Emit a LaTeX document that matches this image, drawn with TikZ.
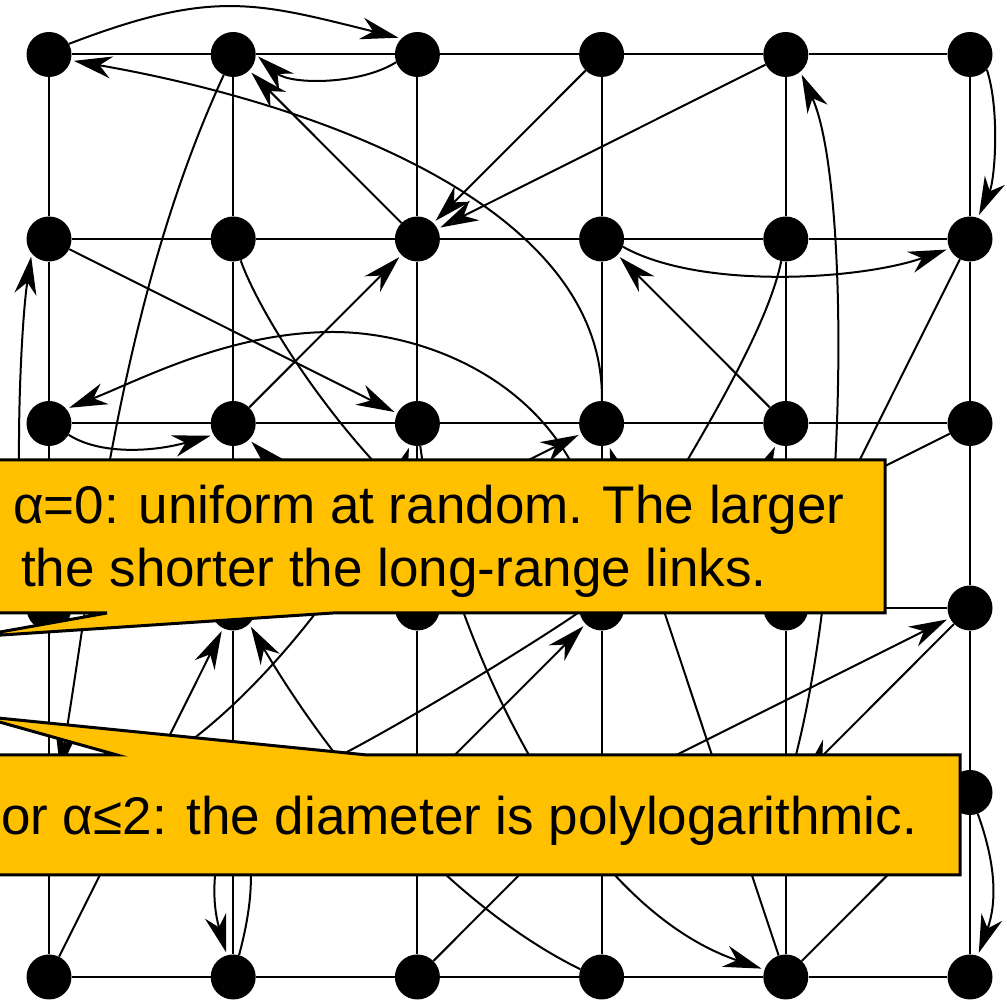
\documentclass[tikz,border=0pt]{standalone}
\usepackage{fontspec}
\setmainfont{Liberation Sans}
\usetikzlibrary{arrows.meta}
\definecolor{callfill}{RGB}{255,192,0}
\begin{document}
\begin{tikzpicture}[x=1pt,y=1pt,
  dot/.style={circle,fill=black,inner sep=0pt,minimum size=45pt},
  gridline/.style={line width=2pt},
  arr/.style={line width=2pt,-{Stealth[length=38pt,width=22pt,inset=12pt]},shorten >=3pt},
  callout/.style={fill=callfill,draw=black,line width=3pt,line join=miter},
  ctext/.style={anchor=base west,inner sep=0pt,font=\fontsize{53}{63}\selectfont}]
\useasboundingbox (0,0) rectangle (1007,1000);
\clip (0,0) rectangle (1007,1000);
% nodes
\foreach \i in {0,...,5}{\foreach \j in {0,...,5}{
  \node[dot] (n\i\j) at ({49+184.2*\i},{945.5-184.5*\j}) {};}}
% grid
\foreach \a/\b in {0/1,1/2,2/3,3/4,4/5}{\foreach \j in {0,...,5}{
  \draw[gridline] (n\a\j) -- (n\b\j);
  \draw[gridline] (n\j\a) -- (n\j\b);}}
% long-range links
\draw[arr] (n00.28) .. controls (212,1011) and (255,998) .. (n20.135);
\draw[arr] (n20.200) .. controls (360,915) and (290,915) .. (n10.east);
\draw[arr] (n32) .. controls (605,800) and (300,900) .. (n00.-15);
\draw[arr] (n21) -- (n10);
\draw[arr] (n10) .. controls (120,700) and (95,440) .. (n04.62);
\draw[arr] (n03.150) .. controls (12,480) and (20,670) .. (n01.220);
\draw[arr] (n01) -- (n22);
\draw[arr] (n11) .. controls (265,670) and (400,460) .. (n33);
\draw[arr] (n02.-30) .. controls (100,545) and (153,548) .. (n12.210);
\draw[arr] (n30) -- (n21);
\draw[arr] (n40) -- (n21);
\draw[arr] (n50.-42) .. controls (1000,890) and (995,820) .. (n51.70);
\draw[arr] (n31.-20) .. controls (700,710) and (860,720) .. (n51.205);
\draw[arr] (n42) -- (n31);
\draw[arr] (n44) .. controls (850,440) and (850,820) .. (n40.-50);
\draw[arr] (n41) .. controls (765,660) and (680,530) .. (n33);
\draw[arr] (n51) -- (n43);
\draw[arr] (n52) -- (n33);
\draw[arr] (n12) -- (n21);
\draw[arr] (n33) .. controls (600,600) and (440,668) .. (333,668) .. controls (230,668) and (140,620) .. (n02.40);
\draw[arr] (n23) -- (n12);
\draw[arr] (n04) .. controls (200,210) and (370,440) .. (n22);
\draw[arr] (n22) .. controls (440,400) and (560,100) .. (n45.161);
\draw[arr] (n13) -- (n32);
\draw[arr] (n45) -- (n32);
\draw[arr] (n43) to[bend left=25] (n42);
\draw[arr] (n53) -- (n44);
\draw[arr] (n34) -- (n53);
\draw[arr] (n25) -- (n34);
\draw[arr] (n24) -- (n33);
\draw[arr] (n33.190) .. controls (540,360) and (330,230) .. (n14);
\draw[arr] (n05) -- (n13);
\draw[arr] (n35.160) .. controls (470,85) and (350.5,205) .. (n13.-45);
\draw[arr] (n14) to[bend right=16] (n15);
\draw[arr] (n15) to[bend right=15] (n14);
\draw[arr] (n45) -- (n54);
\draw[arr] (n54) to[bend left=20] (n55);
% callouts
\draw[callout] (-40,540) -- (885,540) -- (885,387) -- (333,387) -- (-28,363) -- (107,387) -- (-40,387) -- cycle;
\draw[callout] (-40,245) -- (117,245) -- (-22,284) -- (367,245) -- (960,245) -- (960,125) -- (-40,125) -- cycle;
\node[ctext] (t1) at (13,476) {α=0: uniform at random. The larger};
\node[ctext] (t2) at (21,413) {the shorter the long-range links.};
\node[ctext] (t3) at (1,165) {or α≤2: the diameter is polylogarithmic.};
\end{tikzpicture}
\end{document}
